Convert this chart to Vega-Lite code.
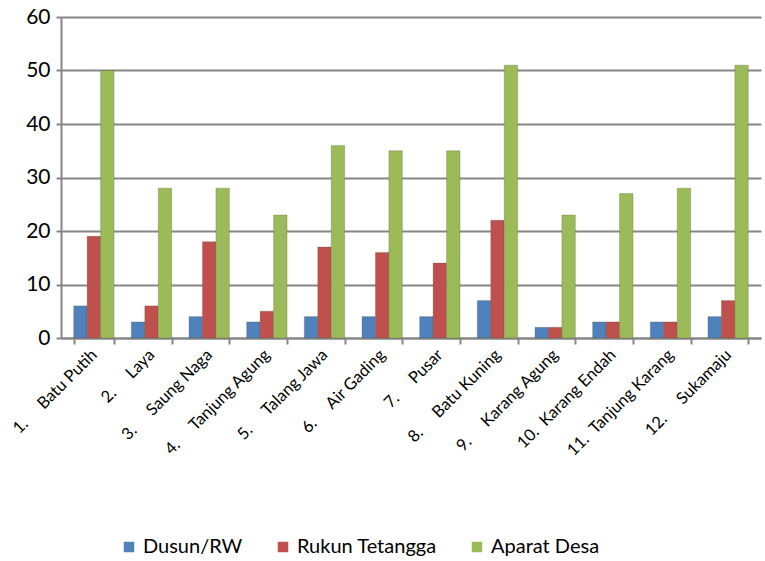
{
  "$schema": "https://vega.github.io/schema/vega-lite/v6.json",
  "width": 700,
  "height": 321,
  "autosize": {"type": "none"},
  "padding": {"left": 61, "top": 17, "right": 4, "bottom": 223},
  "background": "white",
  "config": {
    "view": {"stroke": null},
    "font": "Lato"
  },
  "data": {
    "values": [
      {"desa": "1.\u00a0\u00a0\u00a0\u00a0\u00a0Batu Putih", "seri": "Dusun/RW", "nilai": 6},
      {"desa": "1.\u00a0\u00a0\u00a0\u00a0\u00a0Batu Putih", "seri": "Rukun Tetangga", "nilai": 19},
      {"desa": "1.\u00a0\u00a0\u00a0\u00a0\u00a0Batu Putih", "seri": "Aparat Desa", "nilai": 50},
      {"desa": "2.\u00a0\u00a0\u00a0\u00a0\u00a0Laya", "seri": "Dusun/RW", "nilai": 3},
      {"desa": "2.\u00a0\u00a0\u00a0\u00a0\u00a0Laya", "seri": "Rukun Tetangga", "nilai": 6},
      {"desa": "2.\u00a0\u00a0\u00a0\u00a0\u00a0Laya", "seri": "Aparat Desa", "nilai": 28},
      {"desa": "3.\u00a0\u00a0\u00a0\u00a0\u00a0Saung Naga", "seri": "Dusun/RW", "nilai": 4},
      {"desa": "3.\u00a0\u00a0\u00a0\u00a0\u00a0Saung Naga", "seri": "Rukun Tetangga", "nilai": 18},
      {"desa": "3.\u00a0\u00a0\u00a0\u00a0\u00a0Saung Naga", "seri": "Aparat Desa", "nilai": 28},
      {"desa": "4.\u00a0\u00a0\u00a0\u00a0\u00a0Tanjung Agung", "seri": "Dusun/RW", "nilai": 3},
      {"desa": "4.\u00a0\u00a0\u00a0\u00a0\u00a0Tanjung Agung", "seri": "Rukun Tetangga", "nilai": 5},
      {"desa": "4.\u00a0\u00a0\u00a0\u00a0\u00a0Tanjung Agung", "seri": "Aparat Desa", "nilai": 23},
      {"desa": "5.\u00a0\u00a0\u00a0\u00a0\u00a0Talang Jawa", "seri": "Dusun/RW", "nilai": 4},
      {"desa": "5.\u00a0\u00a0\u00a0\u00a0\u00a0Talang Jawa", "seri": "Rukun Tetangga", "nilai": 17},
      {"desa": "5.\u00a0\u00a0\u00a0\u00a0\u00a0Talang Jawa", "seri": "Aparat Desa", "nilai": 36},
      {"desa": "6.\u00a0\u00a0\u00a0\u00a0\u00a0Air Gading", "seri": "Dusun/RW", "nilai": 4},
      {"desa": "6.\u00a0\u00a0\u00a0\u00a0\u00a0Air Gading", "seri": "Rukun Tetangga", "nilai": 16},
      {"desa": "6.\u00a0\u00a0\u00a0\u00a0\u00a0Air Gading", "seri": "Aparat Desa", "nilai": 35},
      {"desa": "7.\u00a0\u00a0\u00a0\u00a0\u00a0Pusar", "seri": "Dusun/RW", "nilai": 4},
      {"desa": "7.\u00a0\u00a0\u00a0\u00a0\u00a0Pusar", "seri": "Rukun Tetangga", "nilai": 14},
      {"desa": "7.\u00a0\u00a0\u00a0\u00a0\u00a0Pusar", "seri": "Aparat Desa", "nilai": 35},
      {"desa": "8.\u00a0\u00a0\u00a0\u00a0\u00a0Batu Kuning", "seri": "Dusun/RW", "nilai": 7},
      {"desa": "8.\u00a0\u00a0\u00a0\u00a0\u00a0Batu Kuning", "seri": "Rukun Tetangga", "nilai": 22},
      {"desa": "8.\u00a0\u00a0\u00a0\u00a0\u00a0Batu Kuning", "seri": "Aparat Desa", "nilai": 51},
      {"desa": "9.\u00a0\u00a0\u00a0\u00a0\u00a0Karang Agung", "seri": "Dusun/RW", "nilai": 2},
      {"desa": "9.\u00a0\u00a0\u00a0\u00a0\u00a0Karang Agung", "seri": "Rukun Tetangga", "nilai": 2},
      {"desa": "9.\u00a0\u00a0\u00a0\u00a0\u00a0Karang Agung", "seri": "Aparat Desa", "nilai": 23},
      {"desa": "10.\u00a0\u00a0Karang Endah", "seri": "Dusun/RW", "nilai": 3},
      {"desa": "10.\u00a0\u00a0Karang Endah", "seri": "Rukun Tetangga", "nilai": 3},
      {"desa": "10.\u00a0\u00a0Karang Endah", "seri": "Aparat Desa", "nilai": 27},
      {"desa": "11.\u00a0\u00a0Tanjung Karang", "seri": "Dusun/RW", "nilai": 3},
      {"desa": "11.\u00a0\u00a0Tanjung Karang", "seri": "Rukun Tetangga", "nilai": 3},
      {"desa": "11.\u00a0\u00a0Tanjung Karang", "seri": "Aparat Desa", "nilai": 28},
      {"desa": "12.\u00a0\u00a0\u00a0\u00a0\u00a0Sukamaju", "seri": "Dusun/RW", "nilai": 4},
      {"desa": "12.\u00a0\u00a0\u00a0\u00a0\u00a0Sukamaju", "seri": "Rukun Tetangga", "nilai": 7},
      {"desa": "12.\u00a0\u00a0\u00a0\u00a0\u00a0Sukamaju", "seri": "Aparat Desa", "nilai": 51}
    ]
  },
  "mark": {"type": "bar", "stroke": "#3f4f22", "strokeOpacity": 0.35, "strokeWidth": 0.7},
  "encoding": {
    "x": {
      "field": "desa",
      "type": "nominal",
      "sort": null,
      "scale": {"paddingInner": 0.3, "paddingOuter": 0.22},
      "axis": {
        "title": null,
        "labelAngle": -45,
        "labelAlign": "right",
        "labelBaseline": "middle",
        "labelFontSize": 16.5,
        "labelColor": "#000000",
        "labelPadding": 8,
        "labelLimit": 300,
        "labelDx": 24,
        "labelDy": 11,
        "labelOverlap": false,
        "domainColor": "#868686",
        "domainWidth": 2,
        "tickColor": "#868686",
        "tickWidth": 2,
        "tickSize": 6,
        "tickBand": "extent"
      }
    },
    "xOffset": {
      "field": "seri",
      "type": "nominal",
      "sort": ["Dusun/RW", "Rukun Tetangga", "Aparat Desa"],
      "scale": {"paddingInner": 0}
    },
    "y": {
      "field": "nilai",
      "type": "quantitative",
      "scale": {"domain": [0, 60], "nice": false},
      "axis": {
        "title": null,
        "values": [0, 10, 20, 30, 40, 50, 60],
        "labelOverlap": false,
        "labelFontSize": 21,
        "labelColor": "#000000",
        "labelPadding": 6,
        "domainColor": "#868686",
        "domainWidth": 2,
        "tickColor": "#868686",
        "tickWidth": 2,
        "tickSize": 5,
        "gridColor": "#868686",
        "gridWidth": 2
      }
    },
    "color": {
      "field": "seri",
      "type": "nominal",
      "sort": ["Dusun/RW", "Rukun Tetangga", "Aparat Desa"],
      "scale": {"domain": ["Dusun/RW", "Rukun Tetangga", "Aparat Desa"], "range": ["#4F81BD", "#C0504D", "#9BBB59"]},
      "legend": {
        "title": null,
        "orient": "none",
        "direction": "horizontal",
        "legendX": 58,
        "legendY": 520,
        "symbolType": "square",
        "symbolSize": 110,
        "symbolStrokeWidth": 0,
        "labelFontSize": 20,
        "labelColor": "#000000",
        "columnPadding": 30,
        "labelLimit": 300
      }
    }
  }
}
